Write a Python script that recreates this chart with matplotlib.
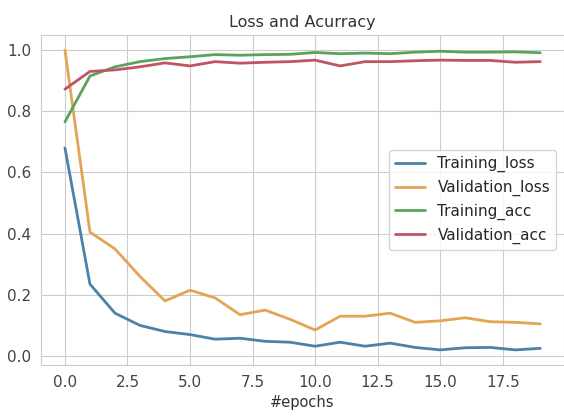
import matplotlib
matplotlib.use("Agg")
import matplotlib.pyplot as plt
import seaborn as sns

epochs = list(range(20))

training_loss = [0.68, 0.235, 0.14, 0.10, 0.08, 0.07, 0.055, 0.058, 0.048, 0.045,
                 0.032, 0.045, 0.032, 0.042, 0.028, 0.02, 0.027, 0.028, 0.02, 0.025]
validation_loss = [1.0, 0.405, 0.35, 0.26, 0.18, 0.215, 0.19, 0.135, 0.15, 0.12,
                   0.085, 0.13, 0.13, 0.14, 0.11, 0.115, 0.125, 0.112, 0.11, 0.105]
training_acc = [0.765, 0.915, 0.945, 0.962, 0.972, 0.978, 0.985, 0.983, 0.985, 0.986,
                0.992, 0.988, 0.99, 0.988, 0.993, 0.996, 0.993, 0.993, 0.994, 0.991]
validation_acc = [0.872, 0.93, 0.935, 0.945, 0.958, 0.948, 0.962, 0.957, 0.96, 0.962,
                  0.967, 0.948, 0.962, 0.962, 0.965, 0.967, 0.966, 0.966, 0.96, 0.962]

colors = ["#4a82a9", "#e3a552", "#5aa35c", "#bf5464"]

sns.set_style("whitegrid")

fig, ax = plt.subplots(figsize=(5.64, 4.17), dpi=100)
ax.plot(epochs, training_loss, color=colors[0], label="Training_loss", lw=2)
ax.plot(epochs, validation_loss, color=colors[1], label="Validation_loss", lw=2)
ax.plot(epochs, training_acc, color=colors[2], label="Training_acc", lw=2)
ax.plot(epochs, validation_acc, color=colors[3], label="Validation_acc", lw=2)

ax.set_title("Loss and Acurracy", fontsize=11.5, color="#333333")
ax.set_xlabel("#epochs", fontsize=10.5, color="#333333")
ax.tick_params(labelsize=11, labelcolor="#444444")
ax.legend(loc="center right", fontsize=11)

# the axes run right up to the figure's right border
fig.subplots_adjust(left=0.073, right=1.0, top=0.916, bottom=0.125)
fig.savefig("out.png")
plt.close(fig)
